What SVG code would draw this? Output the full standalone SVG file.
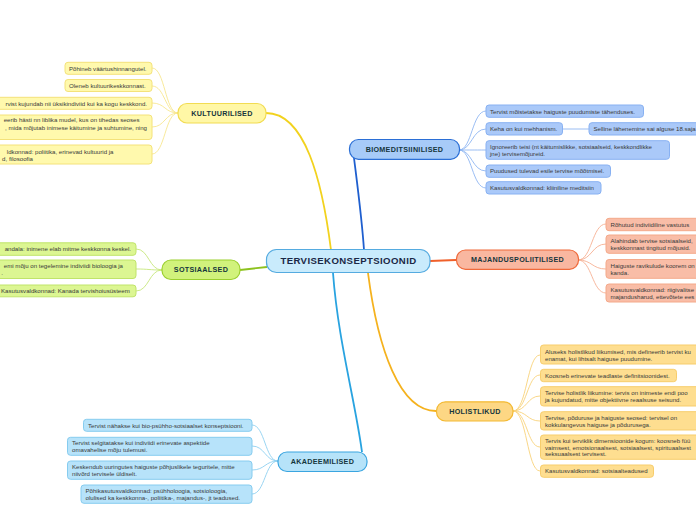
<svg xmlns="http://www.w3.org/2000/svg" width="696" height="520" viewBox="0 0 696 520">
<style>
text{font-family:"Liberation Sans",Arial,sans-serif}
.lt{font-size:6.12px;fill:#3a3a3a}
.mt{font-size:7.2px;font-weight:bold;fill:#15363c;text-anchor:middle;letter-spacing:0.3px}
.ct{font-size:9.6px;font-weight:bold;fill:#1b2846;text-anchor:middle;letter-spacing:0.4px}
.e{text-anchor:end}
.ky rect{fill:#fff9ad;stroke:#f4e27a;stroke-width:1}
.sg rect{fill:#dcf692;stroke:#c0e46a;stroke-width:1}
.ab rect{fill:#b7e3fa;stroke:#86ccef;stroke-width:1}
.bb rect{fill:#aac9f9;stroke:#88b1f2;stroke-width:1}
.mo rect{fill:#f9bda7;stroke:#f4a98a;stroke-width:1}
.ho rect{fill:#fede90;stroke:#f7cd6c;stroke-width:1}
.c{fill:none}
</style>
<g id="connectors">
  <path class="c" d="M331 250 C322 180 305 113 266 113" stroke="#f2d21e" stroke-width="1.8"/>
  <path class="c" d="M364 250 C362 220 358 190 354 158" stroke="#1f5fcf" stroke-width="1.8"/>
  <path class="c" d="M267 267 L240 270" stroke="#8dc21f" stroke-width="1.8"/>
  <path class="c" d="M430 261 L456 260" stroke="#f0602a" stroke-width="1.8"/>
  <path class="c" d="M333 273 C338 340 355 400 362 452" stroke="#29a3e0" stroke-width="1.8"/>
  <path class="c" d="M368 273 C378 350 400 411 436 411" stroke="#f5b21e" stroke-width="1.8"/>
  <g stroke="#f7e690" stroke-width="0.9" fill="none">
    <path d="M178 113 C165 113 165 68 152 68"/>
    <path d="M178 113 C165 113 165 86 152 86"/>
    <path d="M178 113 C165 113 165 103 152 103"/>
    <path d="M178 113 C165 113 165 127 152 127"/>
    <path d="M178 113 C165 113 165 154 152 154"/>
  </g>
  <g stroke="#c6e67c" stroke-width="0.9" fill="none">
    <path d="M162 270 C149 270 149 249 136 249"/>
    <path d="M162 270 C149 270 149 269 136 269"/>
    <path d="M162 270 C149 270 149 291 136 291"/>
  </g>
  <g stroke="#8fd0f0" stroke-width="0.9" fill="none">
    <path d="M278 461 C265 461 265 425 252 425"/>
    <path d="M278 461 C265 461 265 446 252 446"/>
    <path d="M278 461 C265 461 265 470 252 470"/>
    <path d="M278 461 C265 461 265 494 252 494"/>
  </g>
  <g stroke="#8fb6f2" stroke-width="0.9" fill="none">
    <path d="M459 150 C472 150 472 111 486 111"/>
    <path d="M459 150 C472 150 472 129 486 129"/>
    <path d="M459 150 C472 150 472 150 486 150"/>
    <path d="M459 150 C472 150 472 171 486 171"/>
    <path d="M459 150 C472 150 472 188 486 188"/>
    <path d="M563 129 L589 129"/>
  </g>
  <g stroke="#f6b093" stroke-width="0.9" fill="none">
    <path d="M578 260 C592 260 592 224 606 224"/>
    <path d="M578 260 C592 260 592 244 606 244"/>
    <path d="M578 260 C592 260 592 269 606 269"/>
    <path d="M578 260 C592 260 592 293 606 293"/>
  </g>
  <g stroke="#f8d27a" stroke-width="0.9" fill="none">
    <path d="M513 411 C527 411 527 355 540 355"/>
    <path d="M513 411 C527 411 527 375 540 375"/>
    <path d="M513 411 C527 411 527 396 540 396"/>
    <path d="M513 411 C527 411 527 421 540 421"/>
    <path d="M513 411 C527 411 527 447 540 447"/>
    <path d="M513 411 C527 411 527 471 540 471"/>
  </g>
</g>
<g id="central">
  <rect x="266.5" y="249.5" width="163.5" height="23" rx="10" fill="#c9ebfc" stroke="#55abe0" stroke-width="1.2"/>
  <text class="ct" x="348.5" y="264.3">TERVISEKONSEPTSIOONID</text>
</g>
<g id="kultuurilised">
  <rect x="178" y="103.5" width="88" height="19.5" rx="9" fill="#fff7a6" stroke="#f2dc52" stroke-width="1.2"/>
  <text class="mt" x="222" y="115.8">KULTUURILISED</text>
</g>
<g id="k1" class="ky"><rect x="65" y="62.3" width="87" height="12" rx="3"/><text class="lt" x="69" y="70.6">Põhineb väärtushinnangutel.</text></g>
<g id="k2" class="ky"><rect x="65" y="79.5" width="87" height="12" rx="3"/><text class="lt" x="69" y="87.8">Oleneb kultuurikeskkonnast.</text></g>
<g id="k3" class="ky"><rect x="-10" y="97.3" width="162" height="12" rx="3"/><text class="lt e" x="147" y="105.6">rvist kujundab nii üksikindiviid kui ka kogu keskkond.</text></g>
<g id="k4" class="ky"><rect x="-10" y="115" width="162" height="24.5" rx="3"/><text class="lt e" x="139.5" y="122.4">eerib hästi nn liblika mudel, kus on tihedas seoses</text><text class="lt e" x="147" y="129.6">, mida mõjutab inimese käitumine ja suhtumine, ning</text></g>
<g id="k5" class="ky"><rect x="-10" y="145" width="162" height="19" rx="3"/><text class="lt e" x="113.5" y="154">ldkonnad: poliitika, erinevad kultuurid ja</text><text class="lt e" x="33" y="160.6">d, filosoofia</text></g>
<g id="sotsiaalsed">
  <rect x="162" y="260" width="78" height="19.5" rx="9" fill="#d1f27c" stroke="#9bcf2f" stroke-width="1.2"/>
  <text class="mt" x="201" y="272.3">SOTSIAALSED</text>
</g>
<g id="s1" class="sg"><rect x="-10" y="242.8" width="146" height="12.5" rx="3"/><text class="lt e" x="131" y="251.3">andala: inimene elab mitme keskkonna keskel.</text></g>
<g id="s2" class="sg"><rect x="-10" y="260" width="146" height="18.5" rx="3"/><text class="lt e" x="123" y="268.4">emi mõju on tegelemine indiviidi bioloogia ja</text><text class="lt e" x="3" y="275.2">.</text></g>
<g id="s3" class="sg"><rect x="-10" y="285" width="146" height="11.8" rx="3"/><text class="lt" x="1" y="293">Kasutusvaldkonnad: Kanada tervishoiusüsteem</text></g>
<g id="akadeemilised">
  <rect x="278" y="452" width="89" height="19.5" rx="9" fill="#b6e3f9" stroke="#3aa5e0" stroke-width="1.2"/>
  <text class="mt" x="322.5" y="464.3">AKADEEMILISED</text>
</g>
<g id="a1" class="ab"><rect x="83.5" y="419.3" width="168.5" height="12" rx="3"/><text class="lt" x="88" y="427.6">Tervist nähakse kui bio-psühho-sotsiaalset konseptsiooni.</text></g>
<g id="a2" class="ab"><rect x="67.5" y="437.3" width="184.5" height="18" rx="3"/><text class="lt" x="72" y="445.3">Tervist selgitatakse kui indiviidi erinevate aspektide</text><text class="lt" x="72" y="452.2">omavahelise mõju tulemusi.</text></g>
<g id="a3" class="ab"><rect x="67.5" y="461" width="184.5" height="18.3" rx="3"/><text class="lt" x="72" y="469">Keskendub uuringutes haiguste põhjuslikele teguritele, mitte</text><text class="lt" x="72" y="475.9">niivõrd tervisele üldiselt.</text></g>
<g id="a4" class="ab"><rect x="81" y="485" width="171" height="18.3" rx="3"/><text class="lt" x="85.5" y="493">Põhikasutusvaldkonnad: psühholoogia, sotsioloogia,</text><text class="lt" x="85.5" y="500.3">olulised ka keskkonna-, poliitika-, majandus-, jt teadused.</text></g>
<g id="biomeditsiinilised">
  <rect x="349.5" y="139.5" width="110" height="19.8" rx="9" fill="#a7cbf8" stroke="#2b6fd6" stroke-width="1.2"/>
  <text class="mt" x="404.5" y="152">BIOMEDITSIINILISED</text>
</g>
<g id="b1" class="bb"><rect x="486" y="105" width="157.5" height="12.3" rx="3"/><text class="lt" x="490" y="113.6">Tervist mõistetakse haiguste puudumiste tähenduses.</text></g>
<g id="b2" class="bb"><rect x="486" y="122.7" width="76.5" height="12.3" rx="3"/><text class="lt" x="490" y="131.2">Keha on kui mehhanism.</text></g>
<g id="b2a" class="bb"><rect x="589" y="122.7" width="130" height="12.3" rx="3"/><text class="lt" x="593.5" y="131.2">Selline lähenemine sai alguse 18.saja</text></g>
<g id="b3" class="bb"><rect x="486" y="140.7" width="183.5" height="18.6" rx="3"/><text class="lt" x="490" y="148.8">Ignoreerib teisi (nt käitumislikke, sotsiaalseid, keskkondlikke</text><text class="lt" x="490" y="155.7">jne) tervisemõjureid.</text></g>
<g id="b4" class="bb"><rect x="486" y="165" width="124.5" height="12.3" rx="3"/><text class="lt" x="490" y="173.4">Puudused tulevad esile tervise mõõtmisel.</text></g>
<g id="b5" class="bb"><rect x="486" y="181.7" width="115" height="12.3" rx="3"/><text class="lt" x="490" y="190.1">Kasutusvaldkonnad: kliiniline meditsiin</text></g>
<g id="majanduspoliitilised">
  <rect x="456.5" y="250" width="122" height="19.3" rx="9" fill="#f9b7a0" stroke="#ef6a3b" stroke-width="1.2"/>
  <text class="mt" x="517.5" y="262.4">MAJANDUSPOLIITILISED</text>
</g>
<g id="m1" class="mo"><rect x="606" y="218.3" width="120" height="12.4" rx="3"/><text class="lt" x="610.5" y="226.6">Rõhutud indiviidiline vastutus</text></g>
<g id="m2" class="mo"><rect x="606" y="235" width="120" height="18.3" rx="3"/><text class="lt" x="610.5" y="243.3">Alahindab tervise sotsiaalseid,</text><text class="lt" x="610.5" y="250.2">keskkonnast tingitud mõjusid.</text></g>
<g id="m3" class="mo"><rect x="606" y="259.5" width="120" height="18.8" rx="3"/><text class="lt" x="610.5" y="267.7">Haiguste ravikulude koorem on</text><text class="lt" x="610.5" y="274.6">kanda.</text></g>
<g id="m4" class="mo"><rect x="606" y="284" width="120" height="18" rx="3"/><text class="lt" x="610.5" y="292.1">Kasutusvaldkonnad: riigivalitse</text><text class="lt" x="610.5" y="299">majandusharud, ettevõtete ees</text></g>
<g id="holistlikud">
  <rect x="436.5" y="401.8" width="76.5" height="19.2" rx="9" fill="#fdd784" stroke="#f3b932" stroke-width="1.2"/>
  <text class="mt" x="475" y="414.2">HOLISTLIKUD</text>
</g>
<g id="h1" class="ho"><rect x="540.5" y="345" width="180" height="19" rx="3"/><text class="lt" x="545" y="353.7">Aluseks holistlikud liikumised, mis defineerib tervist ku</text><text class="lt" x="545" y="360.6">enamat, kui lihtsalt haiguse puudumine.</text></g>
<g id="h2" class="ho"><rect x="540.5" y="369.3" width="136" height="12.4" rx="3"/><text class="lt" x="545" y="377.7">Koosneb erinevate teadlaste definitsioonidest.</text></g>
<g id="h3" class="ho"><rect x="540.5" y="386.7" width="180" height="19.3" rx="3"/><text class="lt" x="545" y="395">Tervise holistlik liikumine: tervis on inimeste endi poo</text><text class="lt" x="545" y="402">ja kujundatud, mitte objektiivne reaalsuse seisund.</text></g>
<g id="h4" class="ho"><rect x="540.5" y="411.7" width="180" height="18.3" rx="3"/><text class="lt" x="545" y="419.6">Tervise, põduruse ja haiguste seosed: tervisel on</text><text class="lt" x="545" y="426.5">kokkulangevus haiguse ja põdurusega.</text></g>
<g id="h5" class="ho"><rect x="540.5" y="435" width="180" height="24.3" rx="3"/><text class="lt" x="545" y="443">Tervis kui terviklik dimensioonide kogum: koosneb füü</text><text class="lt" x="545" y="449.7">vaimsest, emotsionaalsest, sotsiaalsest, spirituaalsest</text><text class="lt" x="545" y="456.4">seksuaalsest tervisest.</text></g>
<g id="h6" class="ho"><rect x="540.5" y="465" width="113" height="12.3" rx="3"/><text class="lt" x="545" y="473.3">Kasutusvaldkonnad: sotsiaalteadused</text></g>
</svg>
